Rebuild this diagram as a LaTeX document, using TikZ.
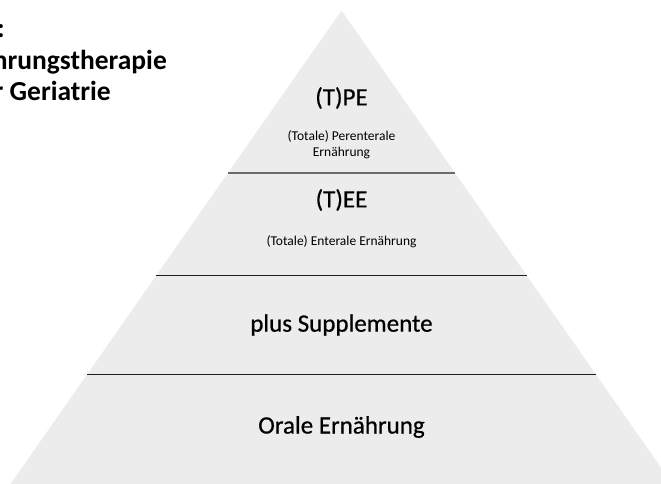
\documentclass[tikz,border=0pt]{standalone}
\usepackage{fontspec}
\setmainfont{Carlito}
\newfontfamily\medfont[BoldFont=Carlito, BoldFeatures={FakeBold=0.6}]{Carlito}
\usetikzlibrary{calc}
\usetikzlibrary{positioning}

\definecolor{pyrfill}{HTML}{ECECEC}
\definecolor{topline}{HTML}{6B6B6B}
\definecolor{rulecol}{HTML}{1E1E1E}

\begin{document}
\begin{tikzpicture}[
    x=1pt, y=-1pt,
    every node/.style={inner sep=0pt, text=black},
    level/.style={font=\medfont\bfseries\fontsize{25}{30}\selectfont},
    sub/.style={font=\fontsize{13.5}{16}\selectfont, align=center},
    title/.style={font=\bfseries\fontsize{27.5}{32}\selectfont, anchor=base east},
    sep/.style={draw=rulecol, line width=1pt}
]
\useasboundingbox (0,0) rectangle (661,484);

% Pyramid
\coordinate (apex) at (341.5,10.5);
\coordinate (bl) at (10.5,484);
\coordinate (br) at (672.5,484);
\fill[pyrfill] (apex) -- (bl) -- (br) -- cycle;

% Level borders
\coordinate (l1) at ($(apex)!0.3426!(bl)$);
\coordinate (r1) at ($(apex)!0.3426!(br)$);
\coordinate (l2) at ($(apex)!0.5607!(bl)$);
\coordinate (r2) at ($(apex)!0.5607!(br)$);
\coordinate (l3) at ($(apex)!0.7683!(bl)$);
\coordinate (r3) at ($(apex)!0.7683!(br)$);
\draw[sep, draw=topline, line width=1.6pt] (l1) -- (r1);
\draw[sep] (l2) -- (r2);
\draw[sep] (l3) -- (r3);

% Nodes
\node[level] (tpe) at (341.5,98) {(T)PE};
\node[sub] (tpetxt) at (341.5,145) {(Totale) Perenterale\\Ernährung};
\node[level] (tee) at (341.5,200) {(T)EE};
\node[sub] (teetxt) at (341.5,242) {(Totale) Enterale Ernährung};
\node[level] (supp) at (341.5,325) {plus Supplemente};
\node[level] (oral) at (341.5,427) {Orale Ernährung};

% Title
\node[title] (head) at (5,37.5) {:};
\node[title] (ttl) at (167,69.5) {hrungstherapie};
\node[title] (ttlb) at (111,101) {r Geriatrie};

\end{tikzpicture}
\end{document}
